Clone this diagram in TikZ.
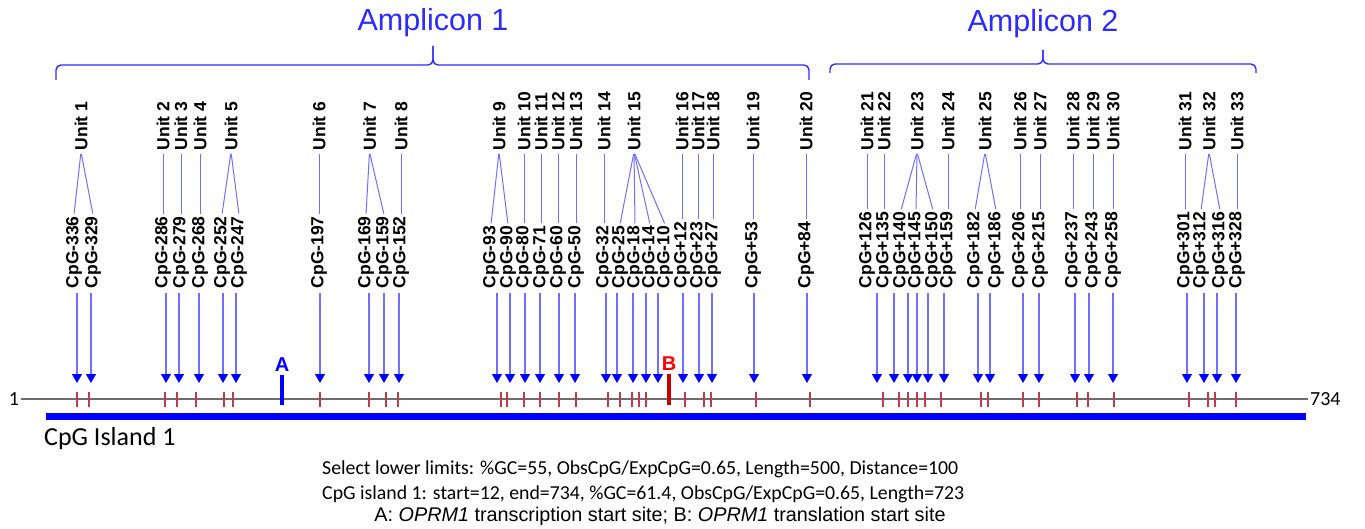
\documentclass[tikz,border=0pt]{standalone}
\usepackage{fontspec}
\setmainfont{Liberation Sans}
\newfontfamily\calibri{Carlito}
\usetikzlibrary{arrows.meta}
\definecolor{arrowblue}{HTML}{6F6FFF}
\definecolor{ampblue}{HTML}{2B2BFF}
\definecolor{tickred}{HTML}{C03A4A}
\definecolor{atgred}{HTML}{C80000}
\definecolor{seqgray}{HTML}{6E6E6E}

\begin{document}
\begin{tikzpicture}[
  x=1pt,y=-1pt,
  cpg/.style={rotate=90,anchor=west,inner sep=1.5pt,font=\bfseries\fontsize{17.5}{19}\selectfont},
  unit/.style={cpg},
  site/.style={color=arrowblue,line width=1.2pt,shorten <=3pt,-{Triangle[width=10pt,length=9pt,color=blue]}},
  link/.style={color=arrowblue,line width=1pt,shorten <=2pt,shorten >=1pt},
  tick/.style={draw=tickred,line width=1.4pt},
  bracket/.style={draw=ampblue,line width=1.4pt,rounded corners=5pt},
  amp/.style={text=ampblue,font=\fontsize{30.5}{32}\selectfont},
  tss/.style={line width=4.5pt},
  note/.style={anchor=west,inner sep=0pt,font=\calibri\fontsize{19.8}{22}\selectfont},
]
\useasboundingbox (0,0) rectangle (1365,529);

% amplicons
\node[amp] (amp1) at (433,23) {Amplicon 1};
\node[amp] (amp2) at (1043,24) {Amplicon 2};
\draw[bracket] (56,80) |- (433,65) -- (433,46);
\draw[bracket] (809,80) |- (433,65) -- (433,46);
\draw[bracket] (830,73) |- (1043,64) -- (1043,50);
\draw[bracket] (1256,73) |- (1043,64) -- (1043,50);

% sequence line and CpG island
\node[font=\calibri\fontsize{20}{22}\selectfont,inner sep=2pt] (lft) at (14,399) {1};
\node[font=\calibri\fontsize{20}{22}\selectfont,inner sep=2pt,anchor=west] (rgt) at (1308,399) {734};
\draw[seqgray,line width=2pt] (lft) -- (rgt);
\draw[blue,line width=7pt] (46,416) -- (1306,416);

% CpG sites
\foreach \i/\p/\lx/\ax in {1/-336/74/77, 2/-329/93/91, 3/-286/163/166, 4/-279/181/179,
    5/-268/200/199, 6/-252/222/223, 7/-247/239/236, 8/-197/319/320, 9/-169/366/369,
    10/-159/384/384, 11/-152/401/399, 12/-93/491/497, 13/-90/508/510, 14/-80/524/525,
    15/-71/541/540, 16/-60/558/559, 17/-50/576/575, 18/-32/604/606, 19/-25/620/617,
    20/-18/635/633, 21/-14/650/646, 22/-10/665/658, 23/+12/682/683, 24/+23/698/699,
    25/+27/713/712, 26/+53/753/754, 27/+84/806/807, 28/+126/867/877, 29/+135/884/894,
    30/+140/901/908, 31/+145/916/917, 32/+150/933/928, 33/+159/948/944, 34/+182/975/978,
    35/+186/996/990, 36/+206/1020/1023, 37/+215/1040/1039, 38/+237/1073/1075,
    39/+243/1093/1089, 40/+258/1113/1113, 41/+301/1185/1187, 42/+312/1201/1204,
    43/+316/1220/1217, 44/+328/1237/1236} {
  \node[cpg] (c\i) at (\lx,290) {CpG\p};
  \coordinate (h\i) at (\ax,383);
  \draw[site] (c\i.west -| h\i) -- (h\i);
  \pgfmathsetmacro\tx{round(663.6+1.745*(0\p))}
  \coordinate (t\i) at (\tx,399.5);
  \draw[tick] (t\i) ++(0,-7.5) -- ++(0,15);
}

% units
\foreach \k/\ux/\sites in {1/81/{1,2}, 2/163/3, 3/181/4, 4/200/5, 5/231/{6,7}, 6/319/8,
    7/369.5/{9,10}, 8/401/11, 9/499/{12,13}, 10/524/14, 11/541/15, 12/558/16, 13/576/17,
    14/604/18, 15/634/{19,20,21,22}, 16/682/23, 17/698/24, 18/713/25, 19/753/26, 20/806/27,
    21/867/28, 22/884/29, 23/917/{30,31,32}, 24/948/33, 25/985/{34,35}, 26/1020/36,
    27/1040/37, 28/1073/38, 29/1093/39, 30/1113/40, 31/1185/41, 32/1209/{42,43}, 33/1237/44} {
  \node[unit] (u\k) at (\ux,152) {Unit \k};
  \foreach \s in \sites
    \draw[link] (u\k.west) -- (c\s.east);
}

% start sites
\node[font=\bfseries\fontsize{20}{22}\selectfont,text=blue,inner sep=1pt] (A) at (282,365) {A};
\draw[tss,blue] (A.south) ++(0,2) -- ++(0,30);
\node[font=\bfseries\fontsize{20}{22}\selectfont,text=red,inner sep=1pt] (B) at (669,364) {B};
\draw[tss,atgred] (B.south) ++(0,2) -- ++(0,31);

% island text
\node[note,font=\calibri\fontsize{26}{28}\selectfont] (isl) at (44,439) {CpG Island 1};
\node[note] (lim) at (322,469) {Select lower limits: \%GC=55, ObsCpG/ExpCpG=0.65, Length=500, Distance=100};
\node[note] (res) at (322,494) {CpG island 1: start=12, end=734, \%GC=61.4, ObsCpG/ExpCpG=0.65, Length=723};
\node[font=\fontsize{19.8}{21}\selectfont,inner sep=0pt] (key) at (660,516)
  {A: \textit{OPRM1} transcription start site; B: \textit{OPRM1} translation start site};
\end{tikzpicture}
\end{document}
